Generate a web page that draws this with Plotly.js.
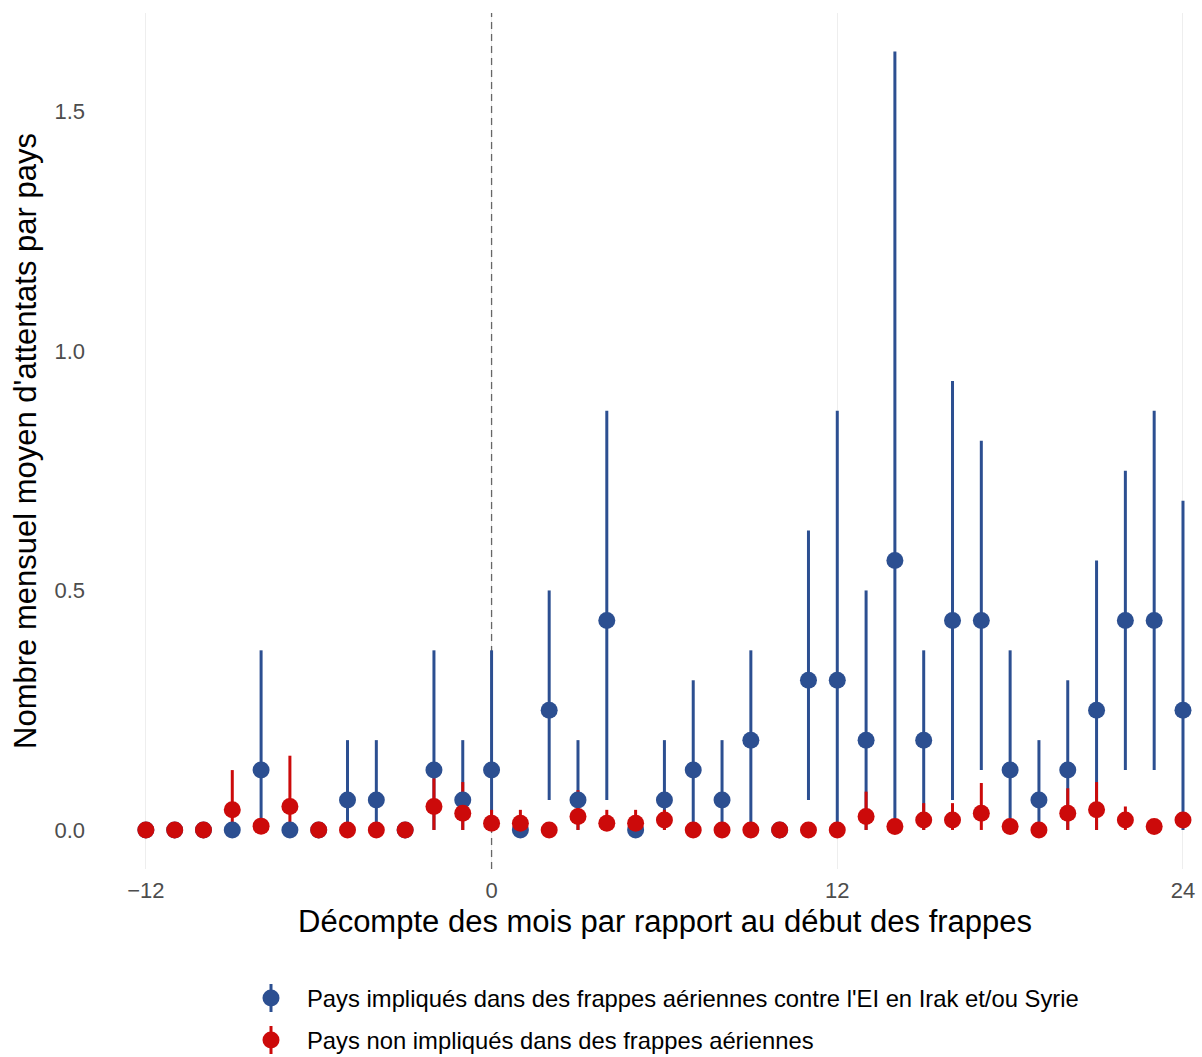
<!DOCTYPE html>
<html>
<head>
<meta charset="utf-8">
<script src="https://cdn.plot.ly/plotly-3.0.1.min.js"></script>
<style>
  html, body { margin: 0; padding: 0; background: #ffffff; }
  #chart { width: 1202px; height: 1057px; }
</style>
</head>
<body>
<div id="chart"></div>
<script>
// ---- data ----
const months = [-12,-11,-10,-9,-8,-7,-6,-5,-4,-3,-2,-1,0,1,2,3,4,5,6,7,8,9,10,11,12,13,14,15,16,17,18,19,20,21,22,23,24];

// Countries involved in air strikes (blue)
const involvedMean = [0,0,0,0,0.125,0,0,0.0625,0.0625,0,0.125,0.0625,0.125,0,0.25,0.0625,0.4375,0,0.0625,0.125,0.0625,0.1875,0,0.3125,0.3125,0.1875,0.5625,0.1875,0.4375,0.4375,0.125,0.0625,0.125,0.25,0.4375,0.4375,0.25];
const involvedLow  = [0,0,0,0,0,0,0,0,0,0,0,0,0,0,0.0625,0,0.0625,0,0,0,0,0,0,0.0625,0,0,0,0,0.0625,0.125,0,0,0,0,0.125,0.125,0];
const involvedHigh = [0,0,0,0,0.375,0,0,0.1875,0.1875,0,0.375,0.1875,0.375,0,0.5,0.1875,0.875,0,0.1875,0.3125,0.1875,0.375,0,0.625,0.875,0.5,1.625,0.375,0.9375,0.8125,0.375,0.1875,0.3125,0.5625,0.75,0.875,0.6875];

// Countries not involved (red)
const notInvolvedMean = [0,0,0,0.042,0.008,0.049,0,0,0,0,0.049,0.035,0.014,0.014,0,0.028,0.014,0.014,0.021,0,0,0,0,0,0,0.028,0.007,0.021,0.021,0.035,0.007,0,0.035,0.042,0.021,0.007,0.021];
const notInvolvedLow  = [0,0,0,0,0,0,0,0,0,0,0,0,0,0,0,0,0,0,0,0,0,0,0,0,0,0,0,0,0,0,0,0,0,0,0,0,0.005];
const notInvolvedHigh = [0,0,0,0.125,0.02,0.155,0,0,0,0,0.108,0.1,0.042,0.042,0,0.083,0.042,0.042,0.042,0,0,0,0,0,0,0.08,0.02,0.056,0.056,0.098,0.02,0,0.087,0.1,0.049,0.02,0.035];

const xTicks = [-12, 0, 12, 24];
const yTicks = [0, 0.5, 1.0, 1.5];
const strikeStart = 0;
const yRange = [-0.0815, 1.7055];
const xRange = [-13.8, 24.66];

const seriesNames = [
  "Pays impliqués dans des frappes aériennes contre l'EI en Irak et/ou Syrie",
  "Pays non impliqués dans des frappes aériennes"
];
const xTitle = "Décompte des mois par rapport au début des frappes";
const yTitle = "Nombre mensuel moyen d'attentats par pays";

// ---- styles ----
const BLUE = '#2c4f91';
const RED = '#cc0a0a';
const FONT = 'Liberation Sans, Arial, sans-serif';

function plus(m, h) { return h.map((v, i) => Math.max(0, v - m[i])); }
function minus(m, l) { return l.map((v, i) => Math.max(0, m[i] - v)); }

function errTrace(mean, low, high, color) {
  return {
    x: months, y: mean, type: 'scatter', mode: 'markers',
    marker: { size: 2, color: color, opacity: 0 },
    error_y: { type: 'data', symmetric: false,
      array: plus(mean, high), arrayminus: minus(mean, low),
      color: color, thickness: 3, width: 0 },
    showlegend: false, hoverinfo: 'skip'
  };
}
function ptTrace(mean, color, name) {
  return {
    x: months, y: mean, type: 'scatter', mode: 'markers', name: name,
    marker: { size: 17, color: color, line: { width: 0 } },
    showlegend: false, hoverinfo: 'x+y'
  };
}

// reference line at the start of the strikes (drawn first, under everything)
const startLine = {
  x: [strikeStart, strikeStart], y: yRange, type: 'scatter', mode: 'lines',
  line: { color: '#666666', width: 1.3, dash: '7px,5px' },
  showlegend: false, hoverinfo: 'skip', cliponaxis: false
};

const traces = [
  startLine,
  errTrace(involvedMean, involvedLow, involvedHigh, BLUE),
  errTrace(notInvolvedMean, notInvolvedLow, notInvolvedHigh, RED),
  ptTrace(involvedMean, BLUE, seriesNames[0]),
  ptTrace(notInvolvedMean, RED, seriesNames[1])
];

// ---- manual legend and titles (paper coordinates) ----
const ML = 94, MT = 13, PW = 1108, PH = 856;
function px(xp) { return (xp - ML) / PW; }
function py(yp) { return (MT + PH - yp) / PH; }

const legendItems = [
  { color: BLUE, cy: 998, name: seriesNames[0] },
  { color: RED,  cy: 1040, name: seriesNames[1] }
];
const shapes = [];
const annotations = [
  { xref: 'paper', yref: 'paper', x: px(665), y: py(921), xanchor: 'center', yanchor: 'middle',
    showarrow: false, text: xTitle, font: { family: FONT, size: 31, color: '#000000' } }
];
legendItems.forEach(it => {
  shapes.push({ type: 'line', xref: 'paper', yref: 'paper',
    x0: px(271), x1: px(271), y0: py(it.cy - 14), y1: py(it.cy + 14),
    line: { color: it.color, width: 3 } });
  shapes.push({ type: 'circle', xref: 'paper', yref: 'paper',
    xsizemode: 'pixel', ysizemode: 'pixel', xanchor: px(271), yanchor: py(it.cy),
    x0: -8.5, x1: 8.5, y0: -8.5, y1: 8.5,
    fillcolor: it.color, line: { width: 0 } });
  annotations.push({ xref: 'paper', yref: 'paper', x: px(305), y: py(it.cy),
    xanchor: 'left', yanchor: 'middle', showarrow: false, text: it.name,
    font: { family: FONT, size: 23.8, color: '#000000' } });
});

const layout = {
  width: 1202, height: 1057,
  margin: { l: ML, r: 0, t: MT, b: 1057 - MT - PH },
  paper_bgcolor: '#ffffff', plot_bgcolor: '#ffffff',
  font: { family: FONT },
  xaxis: {
    range: xRange, tickvals: xTicks, ticktext: xTicks.map(v => v < 0 ? '\u2212' + Math.abs(v) : String(v)),
    showgrid: true, gridcolor: '#eeeeee', gridwidth: 1,
    zeroline: false, showline: false, ticks: '',
    tickfont: { family: FONT, size: 22, color: '#4d4d4d' },
    ticklabelstandoff: 6,
    automargin: false, fixedrange: true
  },
  yaxis: {
    range: yRange, tickvals: yTicks, ticktext: yTicks.map(v => v.toFixed(1)),
    showgrid: false, zeroline: false, showline: false, ticks: '',
    tickfont: { family: FONT, size: 22, color: '#4d4d4d' },
    ticklabelstandoff: 8,
    title: { text: yTitle, font: { family: FONT, size: 31, color: '#000000' }, standoff: 8 },
    automargin: false, fixedrange: true
  },
  showlegend: false,
  shapes: shapes,
  annotations: annotations
};

Plotly.newPlot('chart', traces, layout, { displayModeBar: false, staticPlot: true });
</script>
</body>
</html>
